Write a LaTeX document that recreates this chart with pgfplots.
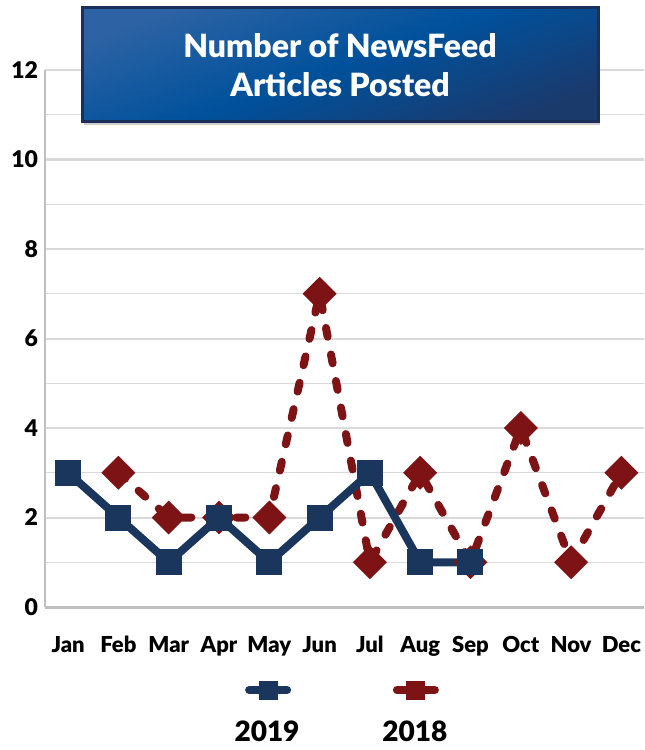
\documentclass[border=0pt]{standalone}
\usepackage{fontspec}
\setmainfont{Lato}[BoldFont={Lato Black}]
\usepackage{pgfplots}
\pgfplotsset{compat=1.18}
\definecolor{navy}{HTML}{1B365D}
\definecolor{dred}{HTML}{7D1315}
\definecolor{gridc}{HTML}{D9D9D9}
\definecolor{axisc}{HTML}{BFBFBF}
\definecolor{tb1}{HTML}{2D63A4}
\definecolor{tb2}{HTML}{00519C}
\definecolor{tb3}{HTML}{1A3A6C}
\definecolor{tbb}{HTML}{1B2F5B}
\pgfplotsset{
  mylegimg/.style={legend image code/.code={
    \path (0pt,0pt);
    \draw[overlay, #1, line width=4pt, line cap=round] (9.5pt,21.5pt) -- (28.5pt,21.5pt);
    \fill[overlay, #1] (14.5pt,17pt) rectangle (23.5pt,26pt);
  }}
}
\begin{document}
\begin{tikzpicture}
\path[use as bounding box] (-22.5pt,-71.5pt) rectangle (299.5pt,303.5pt);
\begin{axis}[
  at={(0,0)}, anchor=south west,
  scale only axis, width=299.5pt, height=268.5pt,
  xmin=-0.46, xmax=11.45, ymin=0, ymax=12,
  axis x line*=bottom, axis y line*=left,
  x axis line style={axisc, line width=1.5pt},
  y axis line style={axisc, line width=1pt},
  xtick={0,...,11},
  xticklabels={Jan,Feb,Mar,Apr,May,Jun,Jul,Aug,Sep,Oct,Nov,Dec},
  ytick={0,2,...,12}, minor ytick={1,3,...,11},
  ymajorgrids, yminorgrids,
  major grid style={gridc, line width=1pt},
  minor grid style={gridc, line width=0.6pt},
  major tick length=0pt, minor tick length=0pt,
  tick label style={font=\bfseries\fontsize{11}{12}\selectfont, black},
  yticklabel style={font=\bfseries\fontsize{11.5}{12}\selectfont},
  /pgf/number format/assume math mode=true,
  xticklabel style={yshift=-11pt},
  clip=false,
  legend columns=2,
  legend style={draw=none, fill=none, at={(0.4933,-0.2346)}, anchor=center,
    font=\bfseries\fontsize{14}{16}\selectfont,
    /tikz/every even column/.append style={column sep=37pt}},
]
\addlegendimage{navy, mylegimg=navy}
\addlegendentry{2019}
\addlegendimage{dred, mylegimg=dred}
\addlegendentry{2018}
\addplot[forget plot, dred, line width=4pt, dash pattern=on 4.5pt off 9pt, line cap=round,
  mark=square*, mark size=4pt, mark options={solid, rotate=45, fill=dred}]
  coordinates {(1,3)(2,2)(3,2)(4,2)(5,7)(6,1)(7,3)(8,1)(9,4)(10,1)(11,3)};
\addplot[forget plot, navy, line width=4pt, mark=square*, mark size=4.5pt, mark options={solid, fill=navy}]
  coordinates {(0,3)(1,2)(2,1)(3,2)(4,1)(5,2)(6,3)(7,1)(8,1)};
\end{axis}
\fill[black!20] (19.5pt,241pt) rectangle (277.5pt,298pt);
\shade[top color=tb1, bottom color=tb3, middle color=tb2, shading angle=20] (18.5pt,242.5pt) rectangle (276.5pt,299.5pt);
\draw[tbb, line width=1.5pt] (18.5pt,242.5pt) rectangle (276.5pt,299.5pt);
\node[white, font=\bfseries\fontsize{16}{19.5}\selectfont, align=center] at (147.5pt,271pt) {Number of NewsFeed\\Articles Posted};
\end{tikzpicture}
\end{document}
